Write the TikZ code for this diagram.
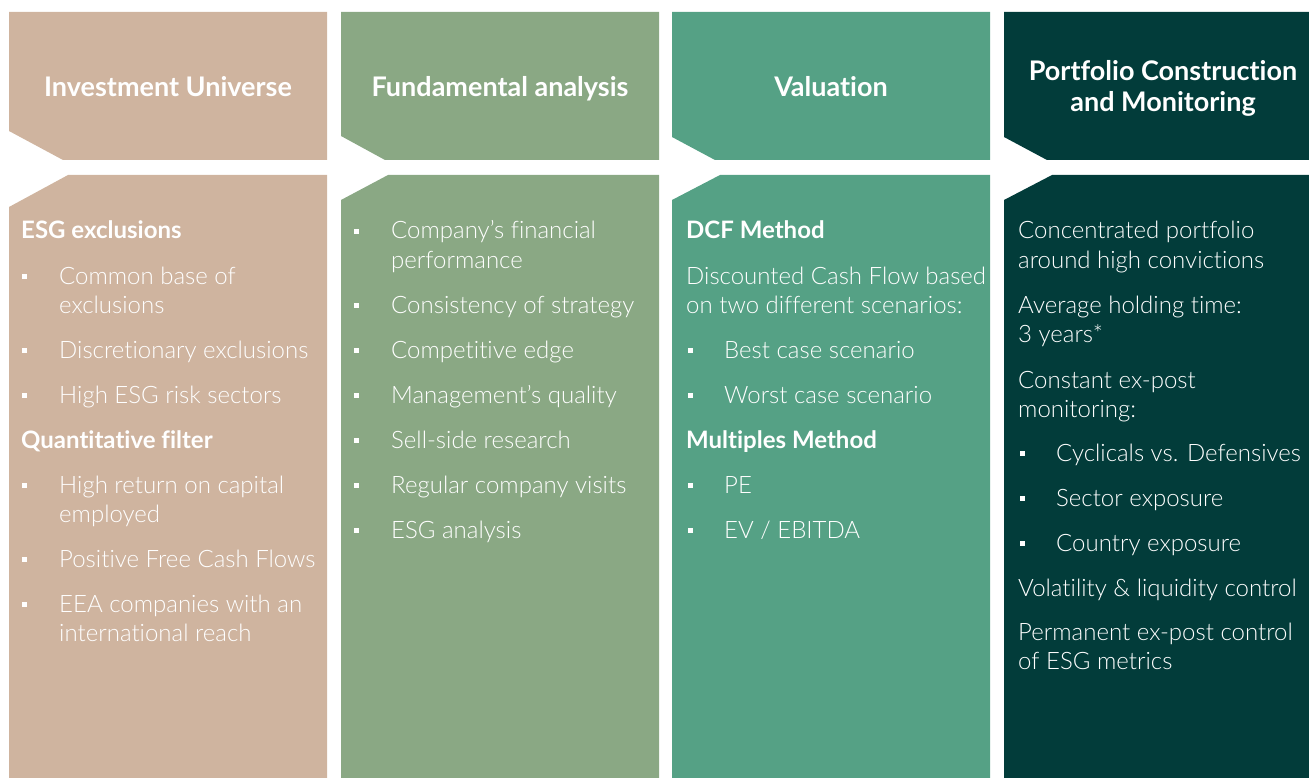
\documentclass[tikz,border=0pt]{standalone}
\usepackage{fontspec}
\setmainfont{Lato}[Ligatures=NoCommon]
\newfontfamily\lightfont{Lato Light}[Ligatures=NoCommon]
\definecolor{universe}{HTML}{CFB49F}
\definecolor{fundamental}{HTML}{8AA884}
\definecolor{valuation}{HTML}{55A185}
\definecolor{portfolio}{HTML}{023C3A}
\tikzset{
  head/.style={anchor=base, text=white, font=\bfseries\fontsize{27}{31}\selectfont, align=center},
  sub/.style={anchor=base west, inner sep=0pt, text=white, font=\bfseries\fontsize{24}{29}\selectfont},
  itm/.style={anchor=base west, inner sep=0pt, text=white, font=\lightfont\fontsize{24}{29}\selectfont},
}
\newcommand{\lines}[1]{\begin{tabular}[t]{@{}l@{}}#1\end{tabular}}
\newcommand{\bul}[2]{\fill[white] (#1,#2-7.5) +(-2.5,-2.5) rectangle +(2.5,2.5);}
\begin{document}
\begin{tikzpicture}[x=1pt,y=-1pt]
  \useasboundingbox (0,0) rectangle (1309,778);
  % column blocks
  \foreach \l/\r/\c/\hx/\hy/\bx/\by in {9/327/universe/54/29/59/32,
      341/659/fundamental/44/24/47/25, 672/990/valuation/43/23/48/25,
      1004/1309/portfolio/43/23/48/25}{
    \fill[\c] (\l,12) -- (\r,12) -- (\r,160) -- (\l+\hx,160) -- (\l,160-\hy) -- cycle;
    \fill[\c] (\l,778) -- (\l,175+\by) -- (\l+\bx,175) -- (\r,175) -- (\r,778) -- cycle;
  }
  \node[head] (h1) at (168,97) {Investment Universe};
  \node[head] (h2) at (500,97) {Fundamental analysis};
  \node[head] (h3) at (831,97) {Valuation};
  \node[head] (h4) at (1163,112) {Portfolio Construction\\and Monitoring};

  % Investment Universe
  \foreach \y/\t [count=\i] in {239/ESG exclusions, 448/Quantitative filter}
    \node[sub] (u-s\i) at (21,\y) {\t};
  \foreach \y/\t [count=\i] in {284/{Common base of\\exclusions},
      358/Discretionary exclusions, 403/High ESG risk sectors,
      493/{High return on capital\\employed}, 567/Positive Free Cash Flows,
      612/{EEA companies with an\\international reach}}{
    \node[itm] (u-b\i) at (59,\y) {\lines{\t}};
    \bul{24.5}{\y}
  }

  % Fundamental analysis
  \foreach \y/\t [count=\i] in {239/{Company’s financial\\performance},
      313/Consistency of strategy, 358/Competitive edge,
      403/Management’s quality, 448/Sell-side research,
      493/Regular company visits, 538/ESG analysis}{
    \node[itm] (f-b\i) at (391,\y) {\lines{\t}};
    \bul{356.5}{\y}
  }

  % Valuation
  \foreach \y/\t [count=\i] in {239/DCF Method, 448/Multiples Method}
    \node[sub] (v-s\i) at (686,\y) {\t};
  \node[itm] (v-t1) at (686,284) {\lines{Discounted Cash Flow based\\on two different scenarios:}};
  \foreach \y/\t [count=\i] in {358/Best case scenario, 403/Worst case scenario,
      493/PE, 538/{EV / EBITDA}}{
    \node[itm] (v-b\i) at (724,\y) {\t};
    \bul{690}{\y}
  }

  % Portfolio Construction and Monitoring
  \foreach \y/\t [count=\i] in {239/{Concentrated portfolio\\around high convictions},
      313/{Average holding time:\\3 years*}, 388/{Constant ex-post\\monitoring:},
      596/Volatility \& liquidity control,
      640/{Permanent ex-post control\\of ESG metrics}}
    \node[itm] (p-t\i) at (1018,\y) {\lines{\t}};
  \foreach \y/\t [count=\i] in {461/Cyclicals vs. Defensives, 506/Sector exposure,
      551/Country exposure}{
    \node[itm] (p-b\i) at (1056,\y) {\t};
    \bul{1022}{\y}
  }
\end{tikzpicture}
\end{document}
